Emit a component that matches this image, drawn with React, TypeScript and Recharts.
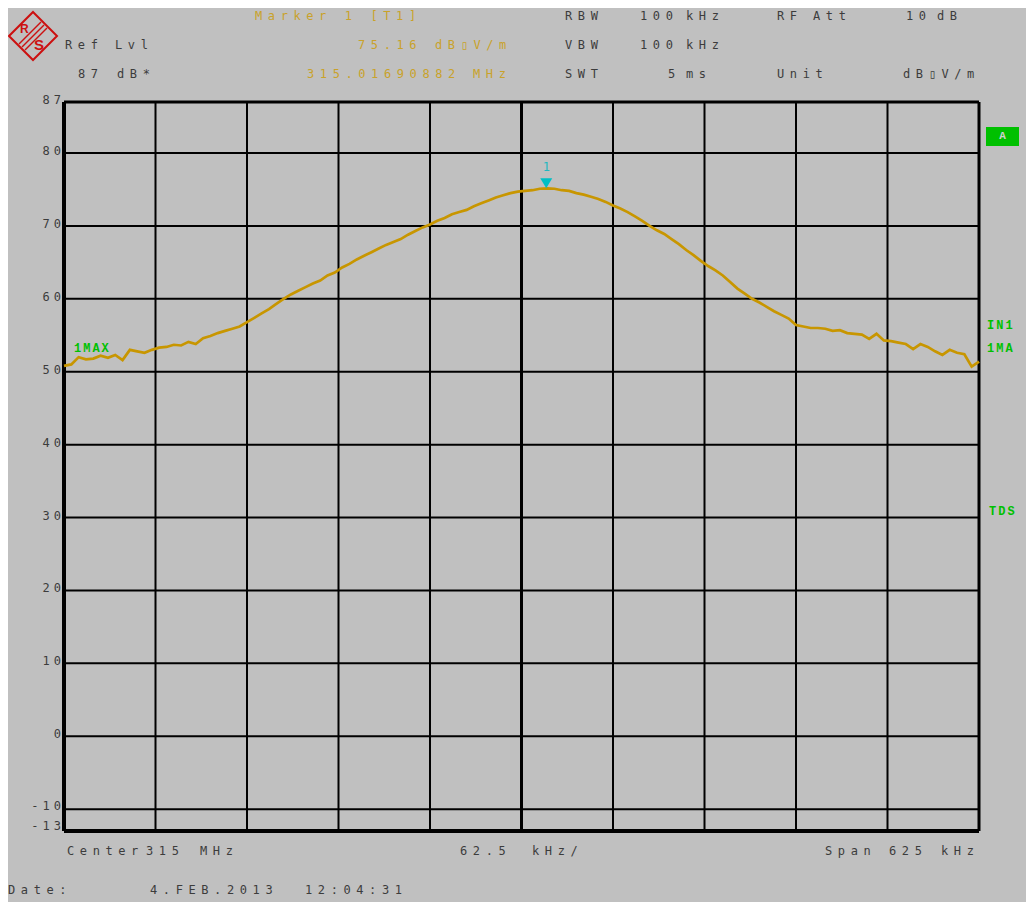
import React from 'react';
import { CartesianGrid, Line, LineChart, ReferenceDot, ReferenceLine, XAxis, YAxis } from 'recharts';

// sweep: 126 points, 5 kHz apart, offsets from the 315 MHz centre
const spanKHz = 625;
const sweepStepKHz = 5;

const levels = [
  50.8, 51.0, 52.0, 51.7, 51.8, 52.2, 51.9, 52.3, 51.6, 53.0,
  52.8, 52.6, 53.0, 53.3, 53.4, 53.7, 53.6, 54.1, 53.8, 54.6,
  54.9, 55.3, 55.6, 55.9, 56.2, 56.8, 57.4, 58.0, 58.6, 59.3,
  60.0, 60.6, 61.1, 61.6, 62.1, 62.5, 63.2, 63.6, 64.3, 64.8,
  65.4, 65.9, 66.4, 66.9, 67.4, 67.8, 68.2, 68.8, 69.3, 69.8,
  70.2, 70.7, 71.1, 71.6, 71.9, 72.2, 72.7, 73.1, 73.5, 73.9,
  74.2, 74.5, 74.7, 74.8, 74.9, 75.1, 75.16, 75.1, 74.9, 74.8,
  74.5, 74.3, 74.0, 73.7, 73.3, 72.8, 72.4, 71.9, 71.3, 70.7,
  70.0, 69.4, 68.9, 68.2, 67.5, 66.7, 66.0, 65.2, 64.5, 63.9,
  63.2, 62.3, 61.4, 60.7, 60.0, 59.5, 58.9, 58.3, 57.8, 57.3,
  56.4, 56.2, 56.0, 56.0, 55.9, 55.6, 55.7, 55.3, 55.2, 55.1,
  54.5, 55.2, 54.3, 54.2, 54.0, 53.8, 53.1, 53.8, 53.4, 52.8,
  52.3, 53.0, 52.6, 52.4, 50.7, 51.4
];

const yTicks = [87, 80, 70, 60, 50, 40, 30, 20, 10, 0, -10, -13];
const xTicks = [-312.5, -250, -187.5, -125, -62.5, 0, 62.5, 125, 187.5, 250, 312.5];

const markerOffsetKHz = 16.90882;
const markerLevel = 75.16;

const data = levels.map((level, i) => ({
  offset: -spanKHz / 2 + i * sweepStepKHz,
  level
}));

const MONO = '"DejaVu Sans Mono", "Liberation Mono", monospace';
const BOLD_MONO = '"Liberation Mono", "DejaVu Sans Mono", monospace';
const GRAY_TEXT = '#3c3c3c';
const GOLD_TEXT = '#c9a22a';
const GREEN = '#00c000';

// x / y are page coordinates of the text's left edge and vertical centre
const T = ({ x, y, children, color = GRAY_TEXT }: any) => (
  <span
    style={{
      position: 'absolute',
      left: x - 8,
      top: y - 16,
      lineHeight: '16px',
      whiteSpace: 'pre',
      fontFamily: MONO,
      fontSize: 12,
      letterSpacing: '5.6px',
      color
    }}
  >
    {children}
  </span>
);

const G = ({ x, y, children }: any) => (
  <span
    style={{
      position: 'absolute',
      left: x - 8,
      top: y - 16,
      lineHeight: '16px',
      whiteSpace: 'pre',
      fontFamily: BOLD_MONO,
      fontWeight: 'bold',
      fontSize: 12,
      letterSpacing: '2px',
      color: GREEN
    }}
  >
    {children}
  </span>
);

const YTick = (props: any) => {
  const { y, payload } = props;
  const v = payload.value;
  const shift = v === -13 ? -1 : v === -10 ? 1 : 2;
  return (
    <text
      x={57}
      y={y + shift}
      textAnchor="end"
      fill={GRAY_TEXT}
      fontSize={12}
      fontFamily={MONO}
      letterSpacing={4}
    >
      {v}
    </text>
  );
};

const MarkerShape = (props: any) => {
  const { cx, cy } = props;
  return (
    <g>
      <polygon points={`${cx - 6},${cy - 10} ${cx + 6},${cy - 10} ${cx},${cy}`} fill="#00bfc4" />
      <text x={cx} y={cy - 17} textAnchor="middle" fill="#20b8c0" fontSize={12} fontFamily={MONO}>
        1
      </text>
    </g>
  );
};

const Logo = () => (
  <svg style={{ position: 'absolute', left: 0, top: 2 }} width={54} height={54}>
    <polygon points="25,2 49,26 25,50 1,26" fill="none" stroke="#cc1010" strokeWidth={2} />
    <line x1={33} y1={12} x2={11} y2={34} stroke="#cc1010" strokeWidth={1.5} />
    <line x1={36} y1={15} x2={14} y2={37} stroke="#cc1010" strokeWidth={1.5} />
    <line x1={39} y1={18} x2={17} y2={40} stroke="#cc1010" strokeWidth={1.5} />
    <text x={12} y={23} fill="#cc1010" fontSize={12} fontWeight="bold" fontFamily="Liberation Sans">R</text>
    <text x={26} y={40} fill="#cc1010" fontSize={15} fontWeight="bold" fontFamily="Liberation Sans">S</text>
  </svg>
);

export default function App() {
  return (
    <div style={{ position: 'relative', width: 1026, height: 902, background: '#fff', overflow: 'hidden' }}>
      <style>{'html,body{margin:0;padding:0;overflow:hidden}'}</style>
      <div
        style={{
          position: 'absolute',
          left: 8,
          top: 8,
          width: 1018,
          height: 894,
          background: '#c0c0c0'
        }}
      >
        <Logo />

        <T x={255} y={16} color={GOLD_TEXT}>Marker 1 [T1]</T>
        <T x={565} y={16}>RBW</T>
        <T x={640} y={16}>100</T>
        <T x={686} y={16}>kHz</T>
        <T x={777} y={16}>RF</T>
        <T x={813} y={16}>Att</T>
        <T x={906} y={16}>10</T>
        <T x={937} y={16}>dB</T>

        <T x={65} y={45}>Ref</T>
        <T x={115} y={45}>Lvl</T>
        <T x={358} y={45} color={GOLD_TEXT}>75.16</T>
        <T x={435} y={45} color={GOLD_TEXT}>dB▯V/m</T>
        <T x={565} y={45}>VBW</T>
        <T x={640} y={45}>100</T>
        <T x={686} y={45}>kHz</T>

        <T x={78} y={74}>87</T>
        <T x={117} y={74}>dB*</T>
        <T x={307} y={74} color={GOLD_TEXT}>315.01690882</T>
        <T x={473} y={74} color={GOLD_TEXT}>MHz</T>
        <T x={565} y={74}>SWT</T>
        <T x={668} y={74}>5</T>
        <T x={686} y={74}>ms</T>
        <T x={777} y={74}>Unit</T>
        <T x={903} y={74}>dB▯V/m</T>

        <LineChart
          width={1018}
          height={894}
          data={data}
          margin={{ top: 94, right: 47, bottom: 71, left: 0 }}
        >
          <CartesianGrid stroke="#000" strokeWidth={2} />
          <XAxis
            type="number"
            dataKey="offset"
            domain={[-312.5, 312.5]}
            ticks={xTicks}
            hide
          />
          <YAxis
            type="number"
            domain={[-13, 87]}
            ticks={yTicks}
            interval={0}
            width={56}
            axisLine={false}
            tickLine={false}
            tick={<YTick />}
          />
          <ReferenceLine x={0} stroke="#000" strokeWidth={3} />
          <ReferenceLine y={87} stroke="#000" strokeWidth={3} />
          <ReferenceLine x={312.5} stroke="#000" strokeWidth={3} />
          <ReferenceLine x={-312.5} stroke="#000" strokeWidth={4} />
          <ReferenceLine y={-13} stroke="#000" strokeWidth={4} />
          <Line
            type="linear"
            dataKey="level"
            stroke="#c89600"
            strokeWidth={2.7}
            dot={false}
            isAnimationActive={false}
          />
          <ReferenceDot
            x={markerOffsetKHz}
            y={markerLevel}
            r={0}
            ifOverflow="visible"
            shape={<MarkerShape />}
          />
        </LineChart>

        <G x={74} y={349}>1MAX</G>
        <G x={987} y={326}>IN1</G>
        <G x={987} y={349}>1MA</G>
        <G x={989} y={512}>TDS</G>
        <div
          style={{
            position: 'absolute',
            left: 986 - 8,
            top: 127 - 8,
            width: 33,
            height: 19,
            background: GREEN,
            color: '#d0d0d0',
            fontFamily: BOLD_MONO,
            fontWeight: 'bold',
            fontSize: 11,
            lineHeight: '19px',
            textAlign: 'center'
          }}
        >
          A
        </div>

        <T x={67} y={851}>Center</T>
        <T x={146} y={851}>315</T>
        <T x={200} y={851}>MHz</T>
        <T x={460} y={851}>62.5</T>
        <T x={532} y={851}>kHz/</T>
        <T x={825} y={851}>Span</T>
        <T x={889} y={851}>625</T>
        <T x={941} y={851}>kHz</T>

        <T x={8} y={890}>Date:</T>
        <T x={150} y={890}>4.FEB.2013</T>
        <T x={305} y={890}>12:04:31</T>
      </div>
    </div>
  );
}
